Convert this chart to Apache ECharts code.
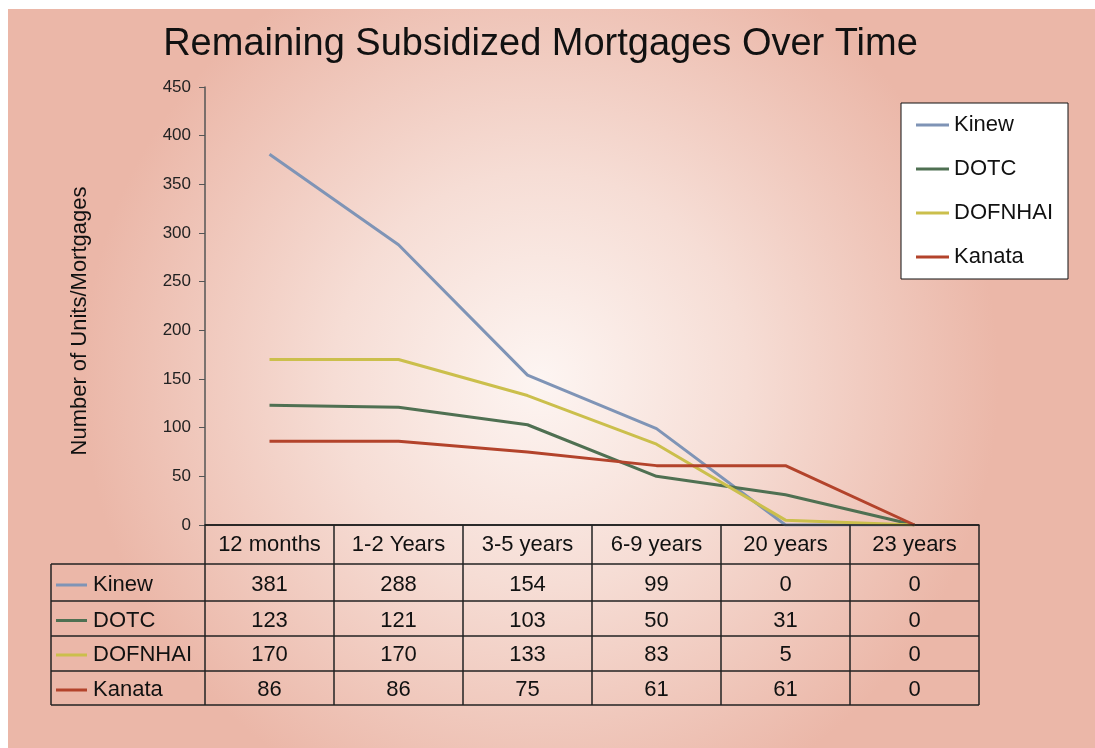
<!DOCTYPE html>
<html>
<head>
<meta charset="utf-8">
<script src="https://cdn.jsdelivr.net/npm/echarts@6/dist/echarts.min.js"></script>
<style>
  html, body { margin: 0; padding: 0; background: #fff; }
  #chartBox { width: 1095px; height: 748px; }
</style>
</head>
<body>
<div id="chartBox"></div>
<script>
// data
const categories = ['12 months', '1-2 Years', '3-5 years', '6-9 years', '20 years', '23 years'];
const seriesNames = ['Kinew', 'DOTC', 'DOFNHAI', 'Kanata'];
const kinew = [381, 288, 154, 99, 0, 0];
const dotc = [123, 121, 103, 50, 31, 0];
const dofnhai = [170, 170, 133, 83, 5, 0];
const kanata = [86, 86, 75, 61, 61, 0];
const colors = ['#7f94b6', '#4f7052', '#cbbf4c', '#b3432b'];

const FONT = '"Liberation Sans", Arial, sans-serif';
const allData = [kinew, dotc, dofnhai, kanata];

// layout of the grid / table
const gridLeft = 205, gridTop = 87, gridW = 774, gridH = 438;
const tableLeft = 51;
const rowLines = [525, 564, 601, 636, 671, 705];
const rowText = [545, 585, 620.5, 655, 690];

let myChart = echarts.init(document.getElementById('chartBox'));

myChart.setOption({
  animation: false,
  grid: { left: gridLeft, top: gridTop, width: gridW, height: gridH },
  legend: {
    left: 901,
    top: 103,
    orient: 'vertical',
    backgroundColor: '#fff',
    borderColor: '#111',
    borderWidth: 1,
    borderRadius: 0,
    padding: [11, 15, 11, 15],
    itemGap: 22,
    itemWidth: 33,
    itemHeight: 3,
    icon: 'rect',
    data: seriesNames,
    textStyle: { fontFamily: FONT, fontSize: 22, lineHeight: 22, color: '#111' }
  },
  xAxis: {
    type: 'category',
    data: categories,
    boundaryGap: true,
    axisLine: { lineStyle: { color: '#111', width: 1.5 } },
    axisTick: { show: false },
    axisLabel: { show: false }
  },
  yAxis: {
    type: 'value',
    min: 0,
    max: 450,
    interval: 50,
    splitLine: { show: false },
    axisLine: { show: true, lineStyle: { color: '#555', width: 1.5 } },
    axisTick: { show: true, length: 6, lineStyle: { color: '#555' } },
    axisLabel: { margin: 14, fontFamily: FONT, fontSize: 17, color: '#222' }
  },
  series: seriesNames.map(function (name, i) {
    return {
      name: name,
      type: 'line',
      data: allData[i],
      showSymbol: false,
      symbol: 'none',
      color: colors[i],
      lineStyle: { width: 3, color: colors[i] }
    };
  })
});

// background, title, axis name and the data table
let graphics = [];
graphics.push({
  type: 'rect',
  z: -10,
  silent: true,
  shape: { x: 8, y: 9, width: 1087, height: 739 },
  style: {
    fill: {
      type: 'radial', x: 0.49, y: 0.5, r: 0.62,
      colorStops: [
        { offset: 0, color: '#fdf5f2' },
        { offset: 0.45, color: '#f6ddd5' },
        { offset: 1, color: '#ebb7a8' }
      ]
    }
  }
});
graphics.push({
  type: 'text',
  x: 540.5, y: 45,
  style: { text: 'Remaining Subsidized Mortgages Over Time', font: '38px ' + FONT, fill: '#111', align: 'center', verticalAlign: 'middle' }
});
graphics.push({
  type: 'text',
  x: 80, y: 321,
  rotation: Math.PI / 2,
  style: { text: 'Number of Units/Mortgages', font: '22px ' + FONT, fill: '#111', align: 'center', verticalAlign: 'middle' }
});

const lineStyle = { stroke: '#222', lineWidth: 1.5 };
const right = gridLeft + gridW;
// horizontal table lines
rowLines.forEach(function (y, i) {
  graphics.push({ type: 'line', z: 50, shape: { x1: i === 0 ? gridLeft : tableLeft, y1: y, x2: right, y2: y }, style: lineStyle });
});
// vertical table lines
graphics.push({ type: 'line', z: 50, shape: { x1: tableLeft, y1: rowLines[1], x2: tableLeft, y2: rowLines[5] }, style: lineStyle });
const colW = gridW / categories.length;
for (let c = 0; c <= categories.length; c++) {
  let x = gridLeft + c * colW;
  graphics.push({ type: 'line', z: 50, shape: { x1: x, y1: rowLines[0], x2: x, y2: rowLines[5] }, style: lineStyle });
}
// header and value cells
categories.forEach(function (cat, c) {
  let x = myChart.convertToPixel({ xAxisIndex: 0 }, cat);
  graphics.push({
    type: 'text', x: x, y: rowText[0], z: 51,
    style: { text: cat, font: '22px ' + FONT, fill: '#111', align: 'center', verticalAlign: 'middle' }
  });
  allData.forEach(function (arr, r) {
    graphics.push({
      type: 'text', x: x, y: rowText[r + 1], z: 51,
      style: { text: String(arr[c]), font: '22px ' + FONT, fill: '#111', align: 'center', verticalAlign: 'middle' }
    });
  });
});
// row keys
seriesNames.forEach(function (name, r) {
  let y = rowText[r + 1];
  graphics.push({ type: 'line', z: 51, shape: { x1: 56, y1: y, x2: 87, y2: y }, style: { stroke: colors[r], lineWidth: 3 } });
  graphics.push({
    type: 'text', x: 93, y: y, z: 51,
    style: { text: name, font: '22px ' + FONT, fill: '#111', align: 'left', verticalAlign: 'middle' }
  });
});

myChart.setOption({ graphic: graphics });
</script>
</body>
</html>
